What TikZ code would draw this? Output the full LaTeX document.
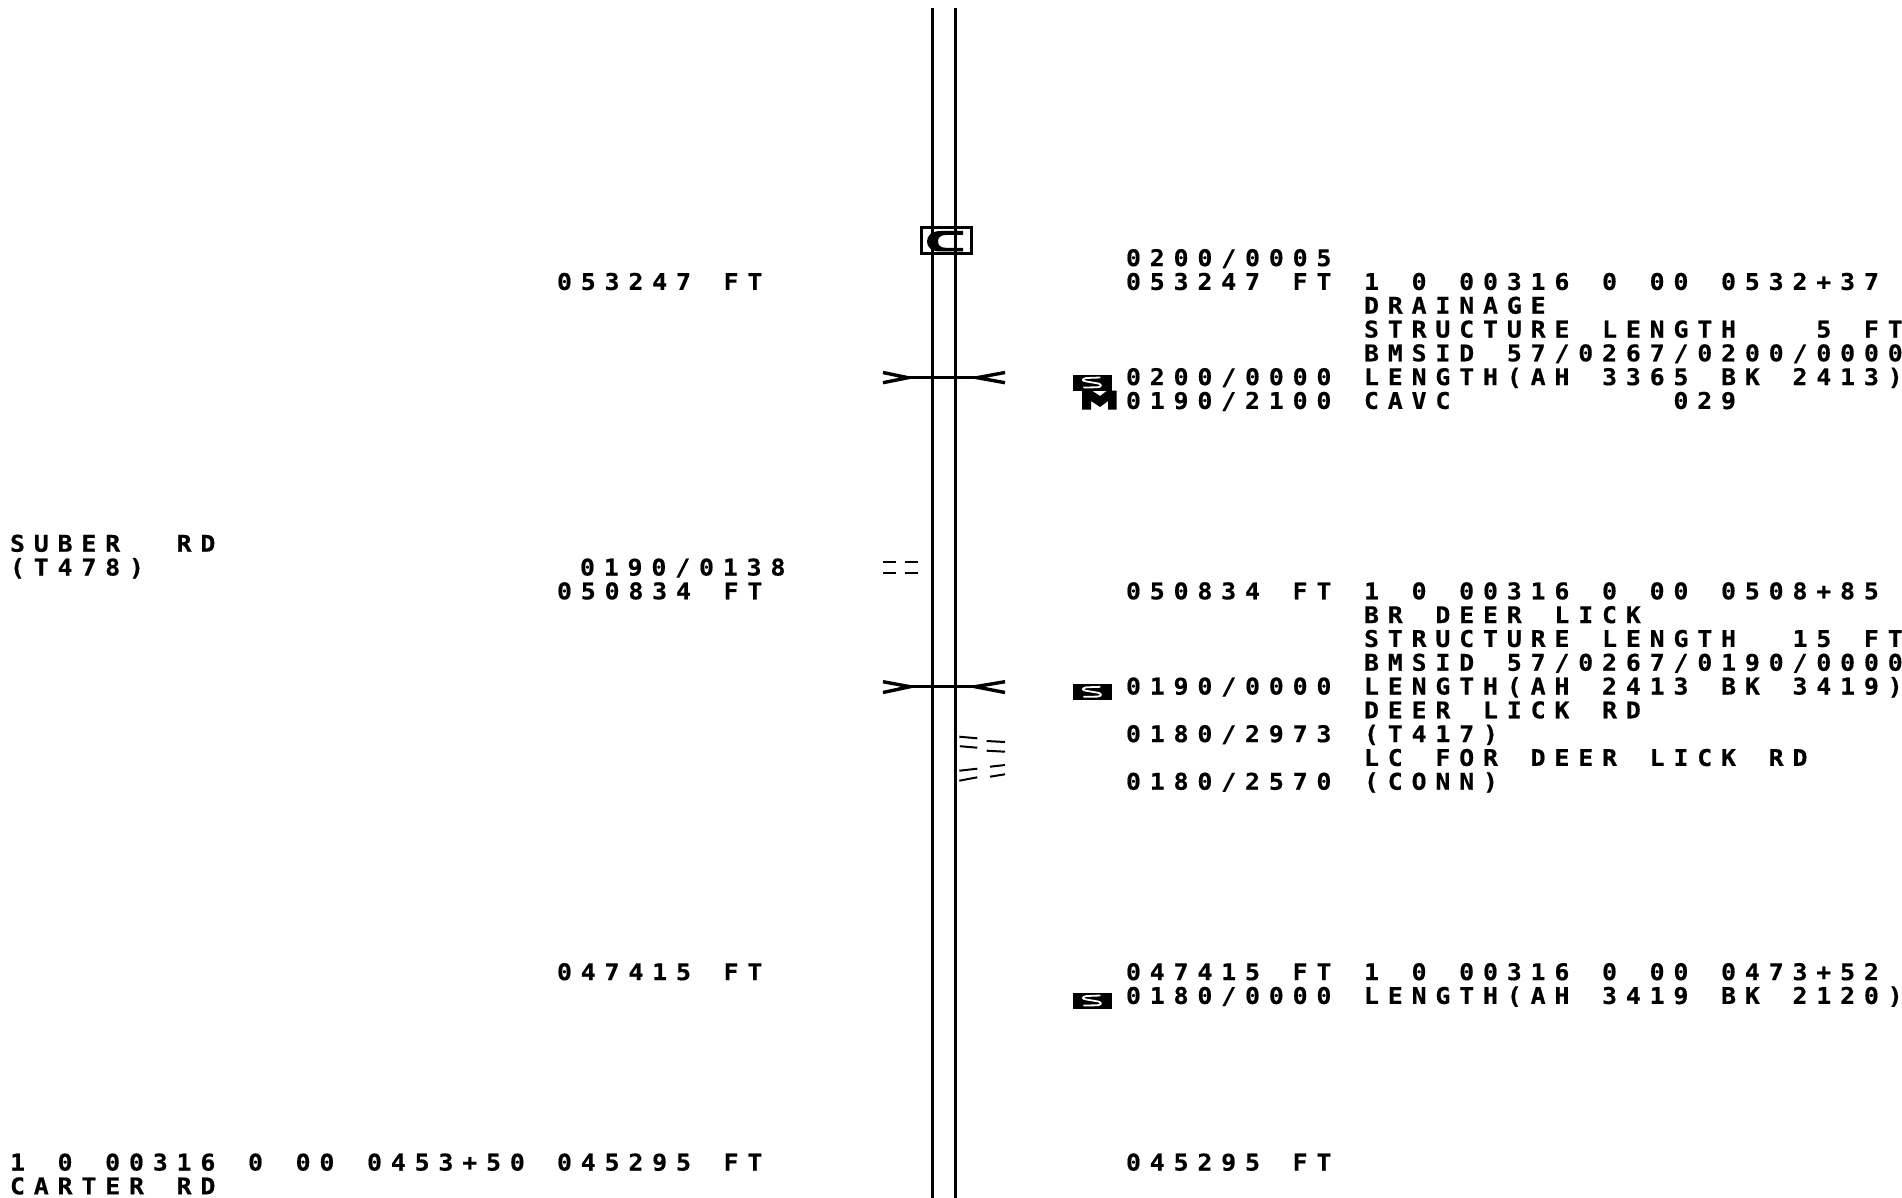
\documentclass[tikz,border=0pt]{standalone}
\usepackage{fontspec}
\newfontfamily\plotfont[LetterSpace=38.5,FakeStretch=1.08,FakeBold=0.5]{DejaVu Sans Mono Bold}
\newcommand{\lblfont}{\plotfont\fontsize{23pt}{24pt}\selectfont\fontdimen2\font=32.65pt\fontdimen3\font=0pt\fontdimen4\font=0pt\fontdimen7\font=0pt\relax}
\newcommand{\xs}{\kern23.8pt\relax}
\tikzset{
  lbl/.style={anchor=base west,inner sep=0pt,outer sep=0pt,font=\lblfont},
  road/.style={line width=2.7pt,black},
  wing/.style={line width=3.4pt,black},
  tick/.style={line width=2pt,black},
  sign/.pic={
    \fill[black] (0,0) rectangle (38.4,15.5);
    \draw[white,line width=1.8pt] (27,2.5) -- (13,3) .. controls (8,4) and (9,6) .. (13,6.5) -- (25,8.5) .. controls (29,9.5) and (28,12) .. (24,12.3) -- (10,12.5);
  }
}
\newcommand{\rowtxt}[4]{\pgfmathsetmacro{\rowy}{266.1+23.8*#3}\node[lbl] (#1) at (#2,\rowy) {#4};}
\begin{document}
\begin{tikzpicture}[x=1pt,y=-1pt]
\useasboundingbox (0,0) rectangle (1902,1198);
\fill[white] (0,0) rectangle (1902,1198);
% roadway
\coordinate (r1t) at (932.4,8); \coordinate (r1b) at (932.4,1198);
\coordinate (r2t) at (955.4,8); \coordinate (r2b) at (955.4,1198);
\draw[road] (r1t) -- (r1b);
\draw[road] (r2t) -- (r2b);
% culvert symbol
\draw[line width=3pt] (921,227.5) rectangle (971,254);
\fill[black] (941,231) .. controls (931,231) and (927,236) .. (927,241.5) .. controls (927,247) and (931,251.5) .. (941,251.5) -- (963,251.5) -- (963,247.8) -- (946,247.8) .. controls (940,247.8) and (938,245) .. (938,241.5) .. controls (938,238) and (940,235) .. (946,235) -- (963,235) -- (963,231) -- cycle;
% bridge 1
\coordinate (b1a) at (908,377.7); \coordinate (b1b) at (977,377.7);
\draw[road,line width=3pt] (b1a) -- (b1b);
\draw[wing] (883,372.5) -- (b1a) -- (883,382.7);
\draw[wing] (1005,372.5) -- (b1b) -- (1005,382.7);
% bridge 2
\coordinate (b2a) at (910,686.7); \coordinate (b2b) at (975,686.7);
\draw[road,line width=3pt] (b2a) -- (b2b);
\draw[wing] (883,681.7) -- (b2a) -- (883,692.5);
\draw[wing] (1005,681.7) -- (b2b) -- (1005,692.5);
% crossing ticks, left
\draw[tick] (883,562) -- (896,562); \draw[tick] (883,573.3) -- (896,573.3);
\draw[tick] (905,562) -- (918,562); \draw[tick] (905,573.3) -- (918,573.3);
% crossing ticks, right
\draw[tick] (959.3,736.7) -- (977.3,738.3); \draw[tick] (959.8,746.2) -- (977.3,747.7);
\draw[tick] (986.7,741) -- (1005,742); \draw[tick] (986.7,750.7) -- (1005,751.7);
\draw[tick] (959.3,770.7) -- (977.3,768.7); \draw[tick] (959.3,780.7) -- (977.3,777.3);
\draw[tick] (990,766.7) -- (1005,765); \draw[tick] (990,776.7) -- (1005,774.3);
% signs
\pic at (1073.3,375) {sign};
\pic at (1073.3,684.3) {sign};
\pic at (1073.3,993) {sign};
\fill[black] (1082,390.7) -- (1092,390.7) -- (1100,396) -- (1107,390.7) -- (1116.7,390.7) -- (1116.7,409.5) -- (1108,409.5) -- (1108,401) -- (1100,407) -- (1091,401) -- (1091,409.5) -- (1082,409.5) -- cycle;
% left column
\rowtxt{lA}{10}{12}{SUBER~\xs RD}
\rowtxt{lB}{10}{13}{(T478)}
\rowtxt{lC}{10}{38}{1~0~00316~0~00~0453+50}
\rowtxt{lD}{10}{39}{CARTER~RD}
% station column
\rowtxt{sA}{557}{1}{053247~FT}
\rowtxt{sB}{580}{13}{0190/0138}
\rowtxt{sC}{557}{14}{050834~FT}
\rowtxt{sD}{557}{30}{047415~FT}
\rowtxt{sE}{557}{38}{045295~FT}
% milepoint column
\rowtxt{mA}{1126}{0}{0200/0005}
\rowtxt{mB}{1126}{1}{053247~FT}
\rowtxt{mC}{1126}{5}{0200/0000}
\rowtxt{mD}{1126}{6}{0190/2100}
\rowtxt{mE}{1126}{14}{050834~FT}
\rowtxt{mF}{1126}{18}{0190/0000}
\rowtxt{mG}{1126}{20}{0180/2973}
\rowtxt{mH}{1126}{22}{0180/2570}
\rowtxt{mI}{1126}{30}{047415~FT}
\rowtxt{mJ}{1126}{31}{0180/0000}
\rowtxt{mK}{1126}{38}{045295~FT}
% description column
\rowtxt{dA}{1364}{1}{1~0~00316~0~00~0532+37}
\rowtxt{dB}{1364}{2}{DRAINAGE}
\rowtxt{dC}{1364}{3}{STRUCTURE~LENGTH~\xs\xs 5~FT}
\rowtxt{dD}{1364}{4}{BMSID~57/0267/0200/0000}
\rowtxt{dE}{1364}{5}{LENGTH(AH~3365~BK~2413)}
\rowtxt{dF}{1364}{6}{CAVC~\xs\xs\xs\xs\xs\xs\xs\xs 029}
\rowtxt{dG}{1364}{14}{1~0~00316~0~00~0508+85}
\rowtxt{dH}{1364}{15}{BR~DEER~LICK}
\rowtxt{dI}{1364}{16}{STRUCTURE~LENGTH~\xs 15~FT}
\rowtxt{dJ}{1364}{17}{BMSID~57/0267/0190/0000}
\rowtxt{dK}{1364}{18}{LENGTH(AH~2413~BK~3419)}
\rowtxt{dL}{1364}{19}{DEER~LICK~RD}
\rowtxt{dM}{1364}{20}{(T417)}
\rowtxt{dN}{1364}{21}{LC~FOR~DEER~LICK~RD}
\rowtxt{dO}{1364}{22}{(CONN)}
\rowtxt{dP}{1364}{30}{1~0~00316~0~00~0473+52}
\rowtxt{dQ}{1364}{31}{LENGTH(AH~3419~BK~2120)}
\end{tikzpicture}
\end{document}
